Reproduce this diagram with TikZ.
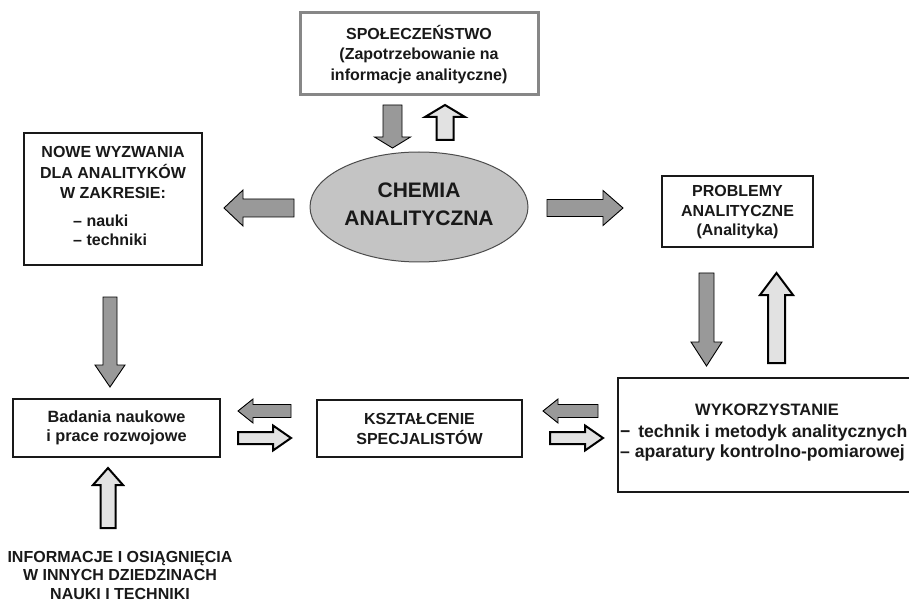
\documentclass[tikz,border=0pt]{standalone}
\usepackage{fontspec}
\setmainfont{Liberation Sans}
\usetikzlibrary{shapes.geometric}
\definecolor{darkfill}{HTML}{999999}
\definecolor{lightfill}{HTML}{E2E2E2}
\definecolor{ellfill}{HTML}{C4C4C4}
\definecolor{topborder}{HTML}{878787}
\tikzset{
  boxnode/.style={draw=black!90, line width=1.8pt, fill=white, inner sep=0pt},
  topbox/.style={draw=topborder, line width=3pt, fill=white, inner sep=0pt},
  txt/.style={inner sep=0pt, font=\fontsize{16}{20}\selectfont\bfseries, align=center, text=black!90},
  darkarrow/.style={fill=darkfill, draw=black, line width=0.9pt, line join=miter},
  lightarrow/.style={fill=lightfill, draw=black, line width=2pt, line join=miter},
}
% vertical block arrow: style, x, ytail, ybase, ytip, shaft half width, head half width
\newcommand\VBlock[7]{%
  \draw[#1] (#2-#6,#3) -- (#2+#6,#3) -- (#2+#6,#4) -- (#2+#7,#4) -- (#2,#5)
    -- (#2-#7,#4) -- (#2-#6,#4) -- cycle;}
% horizontal block arrow: style, y, xtail, xbase, xtip, shaft half height, head half height
\newcommand\HBlock[7]{%
  \draw[#1] (#3,#2-#6) -- (#3,#2+#6) -- (#4,#2+#6) -- (#4,#2+#7) -- (#5,#2)
    -- (#4,#2-#7) -- (#4,#2-#6) -- cycle;}
\begin{document}
\begin{tikzpicture}[x=1pt,y=-1pt]
\useasboundingbox (0,0) rectangle (909,601);
\clip (0,0) rectangle (909,601);

% top box
\node[topbox, minimum width=238pt, minimum height=82pt] (spol) at (419,54) {};
\node[txt, font=\fontsize{16}{20.5}\selectfont\bfseries] (spoltxt) at (419,54.5)
  {SPOŁECZEŃSTWO\\(Zapotrzebowanie na\\informacje analityczne)};

% ellipse
\node[ellipse, draw=black!70, line width=1pt, fill=ellfill,
      minimum width=218pt, minimum height=110pt, inner sep=0pt] (chem) at (419,207) {};
\node[txt, font=\fontsize{21}{28}\selectfont\bfseries] (chemtxt) at (419,204)
  {CHEMIA\\ANALITYCZNA};

% NOWE box
\node[boxnode, minimum width=178pt, minimum height=132pt] (nowe) at (113,199) {};
\node[txt, font=\fontsize{16}{20.5}\selectfont\bfseries] (nowetxt) at (113,172.5)
  {NOWE WYZWANIA\\DLA ANALITYKÓW\\W ZAKRESIE:};
\node[txt, align=left, anchor=west, font=\fontsize{16}{19}\selectfont\bfseries] (nowelist) at (73,230.5)
  {– nauki\\– techniki};

% PROBLEMY box
\node[boxnode, minimum width=151pt, minimum height=71pt] (prob) at (737.5,211.5) {};
\node[txt, font=\fontsize{16}{19.5}\selectfont\bfseries] (probtxt) at (737.5,212.5)
  {PROBLEMY\\ANALITYCZNE\\(Analityka)};

% Badania box
\node[boxnode, minimum width=207pt, minimum height=58pt] (bad) at (116.5,428) {};
\node[txt, font=\fontsize{16.3}{19.5}\selectfont\bfseries] (badtxt) at (116.5,428)
  {Badania naukowe\\i prace rozwojowe};

% KSZTALCENIE box
\node[boxnode, minimum width=205pt, minimum height=57pt] (ksz) at (419.5,428.5) {};
\node[txt, font=\fontsize{16}{20}\selectfont\bfseries] (ksztxt) at (419.5,428.5)
  {KSZTAŁCENIE\\SPECJALISTÓW};

% WYKORZYSTANIE box (cut by the right edge)
\node[boxnode, minimum width=304pt, minimum height=114pt] (wyk) at (770,435) {};
\node[txt, font=\fontsize{16.5}{20}\selectfont\bfseries] (wyktitle) at (767,410) {WYKORZYSTANIE};
\node[txt, align=left, anchor=west, font=\fontsize{17.6}{20}\selectfont\bfseries] (wyklist) at (620,443)
  {−\, technik i metodyk analitycznych\\– aparatury kontrolno-pomiarowej};

% bottom text
\node[txt, font=\fontsize{16}{18.5}\selectfont\bfseries] (info) at (120,575)
  {INFORMACJE I OSIĄGNIĘCIA\\W INNYCH DZIEDZINACH\\NAUKI I TECHNIKI};

% block arrows
\VBlock{darkarrow}{392.5}{105}{137}{148}{9.5}{18}
\VBlock{lightarrow}{445}{140}{117}{105}{8.5}{20}
\HBlock{darkarrow}{208}{294}{243}{224}{9}{18}
\HBlock{darkarrow}{208}{547}{603}{623}{8.5}{17.5}
\VBlock{darkarrow}{706.5}{273}{342}{366}{7.5}{15.5}
\VBlock{lightarrow}{776.5}{363}{295}{273}{8.5}{16.5}
\VBlock{darkarrow}{110}{297}{365}{387}{7}{15}
\VBlock{lightarrow}{108}{528}{485}{468}{7.5}{15}
\HBlock{darkarrow}{411}{291}{253}{238}{6.5}{12}
\HBlock{lightarrow}{438}{238}{273}{291}{6}{12.5}
\HBlock{darkarrow}{411}{598}{558}{543}{6.5}{12}
\HBlock{lightarrow}{438}{550}{585}{603}{6}{12.5}
\end{tikzpicture}
\end{document}
